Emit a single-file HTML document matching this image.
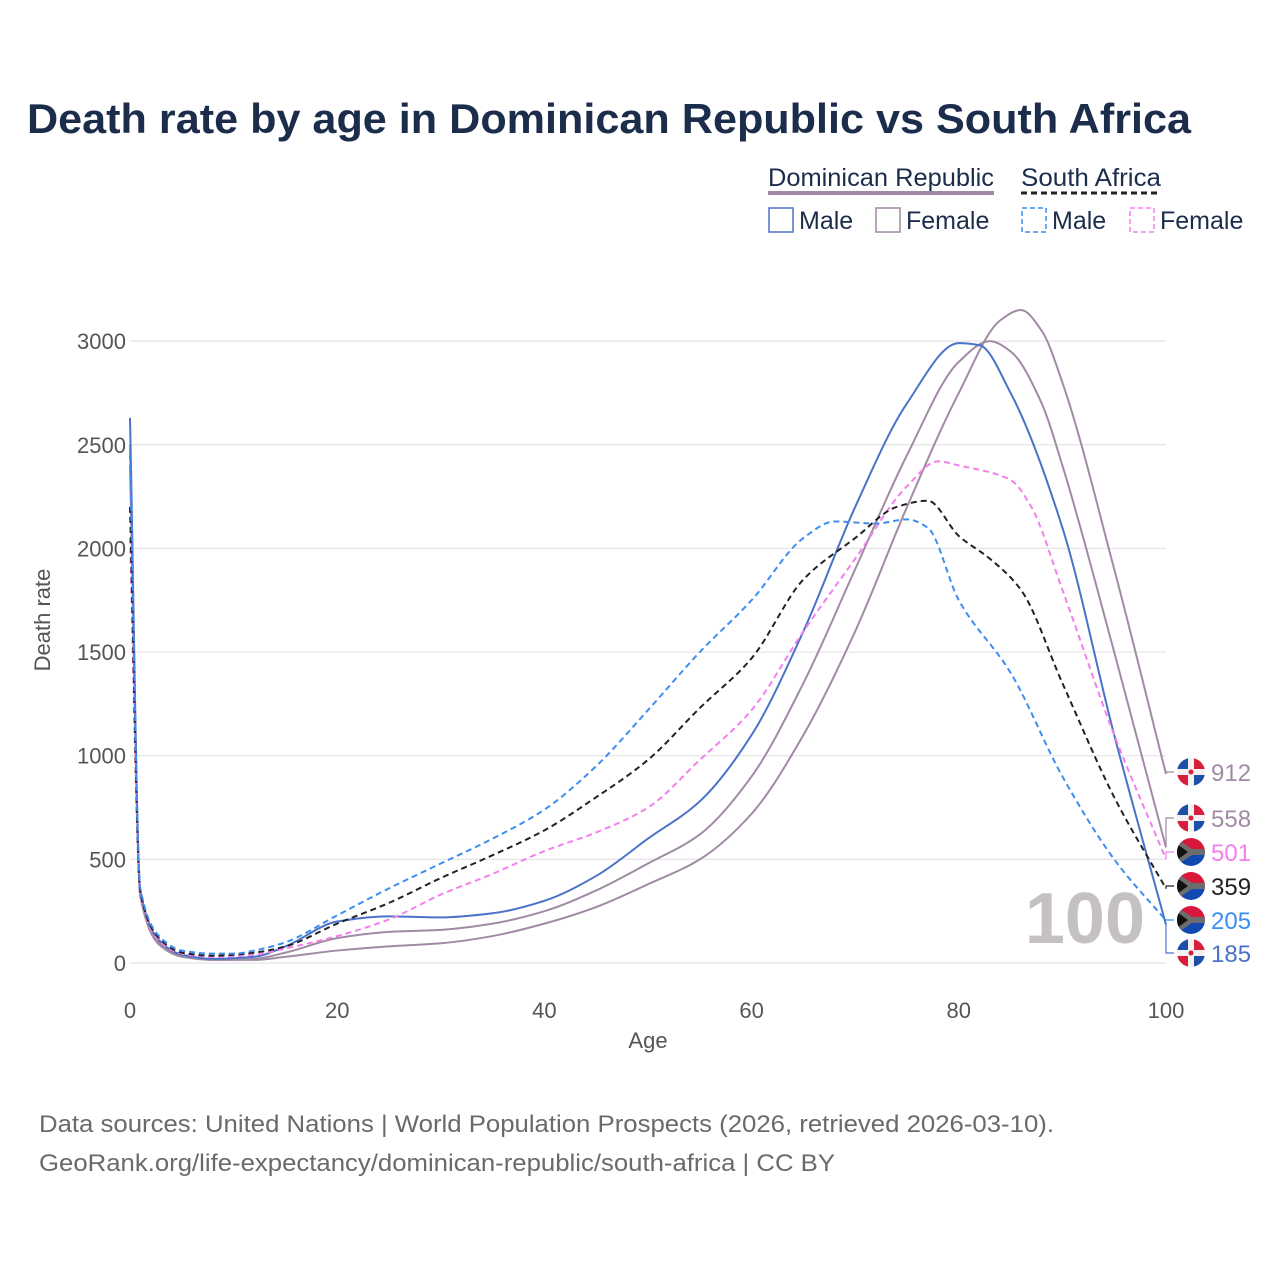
<!DOCTYPE html>
<html><head><meta charset="utf-8"><style>
body{margin:0;background:#fff;font-family:"Liberation Sans",sans-serif}
svg text{font-family:"Liberation Sans",sans-serif}
</style></head><body>
<svg id="chart" width="1280" height="1280" viewBox="0 0 1280 1280" xmlns="http://www.w3.org/2000/svg">
<rect width="1280" height="1280" fill="#fff"/>
<text x="27" y="133" font-size="42" font-weight="bold" fill="#1c2d4c" textLength="1164" lengthAdjust="spacingAndGlyphs">Death rate by age in Dominican Republic vs South Africa</text>
<g font-size="25">
<text x="768" y="186" fill="#1c2d4c" textLength="226" lengthAdjust="spacingAndGlyphs">Dominican Republic</text>
<line x1="768" y1="193" x2="994" y2="193" stroke="#a08aa4" stroke-width="4"/>
<text x="1021" y="186" fill="#1c2d4c" textLength="140" lengthAdjust="spacingAndGlyphs">South Africa</text>
<line x1="1021" y1="193" x2="1161" y2="193" stroke="#222" stroke-width="3" stroke-dasharray="6,4"/>
<g><rect x="769" y="208" width="24" height="24" fill="none" stroke="#4a72c8" stroke-width="1.5"/><text x="799" y="229" fill="#1c2d4c">Male</text></g>
<g><rect x="876" y="208" width="24" height="24" fill="none" stroke="#a08aa4" stroke-width="1.5"/><text x="906" y="229" fill="#1c2d4c">Female</text></g>
<g><rect x="1022" y="208" width="24" height="24" fill="none" stroke="#3d8ef2" stroke-width="1.5" stroke-dasharray="5,3"/><text x="1052" y="229" fill="#1c2d4c">Male</text></g>
<g><rect x="1130" y="208" width="24" height="24" fill="none" stroke="#f47fec" stroke-width="1.5" stroke-dasharray="5,3"/><text x="1160" y="229" fill="#1c2d4c">Female</text></g>
</g>
<g id="grid"></g>
<text x="1145" y="943" text-anchor="end" font-size="72" font-weight="bold" fill="#c4c0c4">100</text>
<g id="series"></g>
<g id="labels"></g>
<text transform="translate(50,620) rotate(-90)" text-anchor="middle" font-size="22" fill="#555">Death rate</text>
<text x="648" y="1048" text-anchor="middle" font-size="22" fill="#555">Age</text>
<text x="39" y="1132" font-size="24" fill="#6a6a6a" textLength="1015" lengthAdjust="spacingAndGlyphs">Data sources: United Nations | World Population Prospects (2026, retrieved 2026-03-10).</text>
<text x="39" y="1171" font-size="24" fill="#6a6a6a" textLength="796" lengthAdjust="spacingAndGlyphs">GeoRank.org/life-expectancy/dominican-republic/south-africa | CC BY</text>
</svg>
<script>
const xTicks=[0,20,40,60,80,100];
const yTicks=[0,500,1000,1500,2000,2500,3000];
const drMaleAges=[0,1,3,5,8,12,15,20,25,30,35,40,45,50,55,60,65,70,75,80,82,85,90,95,100];
const drMaleVals=[2630,350,100,40,20,30,80,200,225,220,240,300,420,600,780,1100,1600,2200,2700,2990,2980,2750,2100,1100,185];
const drFemaleAges=[0,1,3,5,8,12,15,20,25,30,35,40,45,50,55,60,65,70,75,80,84,86,88,90,95,100];
const drFemaleVals=[2400,320,80,30,15,15,30,60,80,95,130,190,270,380,500,720,1100,1600,2200,2750,3100,3150,3050,2800,1900,912];
const drTotalAges=[0,1,3,5,8,12,15,20,25,30,35,40,45,50,55,60,65,70,75,80,83,85,88,90,95,100];
const drTotalVals=[2500,330,90,35,15,20,50,120,150,160,190,250,350,480,620,900,1350,1900,2450,2900,3000,2950,2700,2400,1500,558];
const saMaleAges=[0,1,3,5,8,10,12,15,20,25,30,35,40,45,50,55,60,65,68,72,75,77,80,85,90,95,100];
const saMaleVals=[2450,360,120,60,45,45,60,100,230,360,480,600,740,950,1220,1500,1750,2050,2130,2120,2140,2100,1750,1400,900,500,205];
const saTotalAges=[0,1,3,5,8,12,15,20,25,30,35,40,45,50,55,60,65,70,74,77,80,83,86,90,95,100];
const saTotalVals=[2200,340,110,50,35,50,80,190,290,410,520,640,800,980,1230,1470,1850,2050,2200,2230,2060,1950,1800,1350,800,359];
const saFemaleAges=[0,1,3,5,8,12,15,20,25,30,35,40,45,50,55,60,65,70,75,78,80,85,87,90,95,100];
const saFemaleVals=[2050,330,100,45,30,40,70,130,210,330,430,540,630,750,980,1220,1600,1950,2300,2420,2400,2330,2200,1800,1100,501];
const endLabels=["912","558","501","359","205","185"];
const endValues=[912,558,501,359,205,185];
const endFlags=["dr","dr","sa","sa","sa","dr"];
const endColors=["#a08aa4","#a08aa4","#f47fec","#222","#3d8ef2","#4a72c8"];

const X=a=>130+a*10.36, Y=v=>963-v*0.2073;
const NS="http://www.w3.org/2000/svg";
const mk=(t,at,p)=>{const e=document.createElementNS(NS,t);for(const k in at)e.setAttribute(k,at[k]);p.appendChild(e);return e;};
const grid=document.getElementById('grid');
yTicks.forEach(v=>{
 const l=mk('line',{x1:130,x2:1166,y1:Y(v),y2:Y(v),stroke:'#e4e4e4','stroke-width':1.2},grid);
 
 
 const t=mk('text',{x:126,y:Y(v)+8,'text-anchor':'end','font-size':22,fill:'#555'},grid);t.textContent=v;
 
 
});
xTicks.forEach(a=>{
 const t=mk('text',{x:X(a),y:1018,'text-anchor':'middle','font-size':22,fill:'#555'},grid);t.textContent=a;
 
 
});
function path(ages,vals){
 const xs=ages.map(X), ys=vals.map(Y), n=xs.length;
 const d=[],m=new Array(n);
 for(let i=0;i<n-1;i++)d.push((ys[i+1]-ys[i])/(xs[i+1]-xs[i]));
 m[0]=d[0];m[n-1]=d[n-2];
 for(let i=1;i<n-1;i++){ if(d[i-1]*d[i]<=0)m[i]=0; else {const h0=xs[i]-xs[i-1],h1=xs[i+1]-xs[i],w1=2*h1+h0,w2=h1+2*h0;m[i]=(w1+w2)/(w1/d[i-1]+w2/d[i]);}}
 let s='M'+xs[0]+','+ys[0];
 for(let i=0;i<n-1;i++){const h=(xs[i+1]-xs[i])/3;
  s+=`C${xs[i]+h},${ys[i]+m[i]*h} ${xs[i+1]-h},${ys[i+1]-m[i+1]*h} ${xs[i+1]},${ys[i+1]}`;}
 return s;}
const ser=document.getElementById('series');
[[drFemaleAges,drFemaleVals,'#a08aa4',null,'line-dr-female'],[drTotalAges,drTotalVals,'#a08aa4',null,'line-dr-total'],
 [drMaleAges,drMaleVals,'#4a72c8',null,'line-dr-male'],[saFemaleAges,saFemaleVals,'#f47fec','6,4','line-sa-female'],
 [saTotalAges,saTotalVals,'#222','6,4','line-sa-total'],[saMaleAges,saMaleVals,'#3d8ef2','6,4','line-sa-male']].forEach(s=>{
 const at={d:path(s[0],s[1]),fill:'none',stroke:s[2],'stroke-width':2};if(s[3])at['stroke-dasharray']=s[3];
 const e=mk('path',at,ser);
 
 
});
const lab=document.getElementById('labels');
const slotY=[772,818,852,886,920,953];
endLabels.forEach((t,i)=>{
 const g=mk('g',{},lab);
 
 
 const yv=Y(endValues[i]),ys=slotY[i];
 mk('path',{d:`M1166,${yv} L1166,${ys} L1174,${ys}`,fill:'none',stroke:endColors[i],'stroke-width':1.2},g);
 const cx=1191,cy=ys;
 const cp=mk('clipPath',{id:'fc'+i},g);mk('circle',{cx,cy,r:14},cp);
 const f=mk('g',{'clip-path':`url(#fc${i})`},g);
 if(endFlags[i]==='dr'){
  mk('rect',{x:cx-14,y:cy-14,width:28,height:28,fill:'#f2f2f2'},f);
  mk('rect',{x:cx-14,y:cy-14,width:11,height:11,fill:'#1d4fa8'},f);
  mk('rect',{x:cx+3,y:cy-14,width:11,height:11,fill:'#d71e3c'},f);
  mk('rect',{x:cx-14,y:cy+3,width:11,height:11,fill:'#d71e3c'},f);
  mk('rect',{x:cx+3,y:cy+3,width:11,height:11,fill:'#1d4fa8'},f);
  mk('circle',{cx,cy,r:2.5,fill:'#d71e3c'},f);
 } else {
  mk('rect',{x:cx-14,y:cy-14,width:28,height:14,fill:'#d9163c'},f);
  mk('rect',{x:cx-14,y:cy,width:28,height:14,fill:'#1149b0'},f);
  mk('path',{d:`M${cx-14},${cy-13} L${cx+1},${cy-3} L${cx+14},${cy-3} L${cx+14},${cy+3} L${cx+1},${cy+3} L${cx-14},${cy+13}Z`,fill:'#6d6d6d'},f);
  mk('path',{d:`M${cx-14},${cy-8} L${cx-3},${cy} L${cx-14},${cy+8}Z`,fill:'#111'},f);
 }
 const tx=mk('text',{x:1211,y:ys+9,'font-size':24,fill:endColors[i]},g);tx.textContent=t;
});
</script>
</body></html>
